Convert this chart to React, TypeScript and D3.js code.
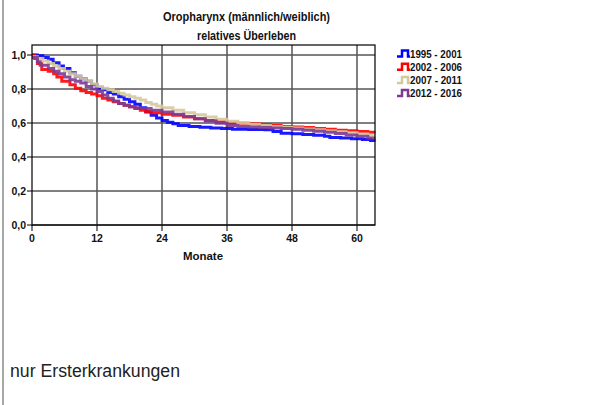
import * as d3 from 'd3'

const title = 'Oropharynx (männlich/weiblich)'
const subtitle = 'relatives Überleben'
const xLabel = 'Monate'
const footnote = 'nur Ersterkrankungen'

const xTicks = [0, 12, 24, 36, 48, 60]
const yTicks = [0, 0.2, 0.4, 0.6, 0.8, 1.0]

const seriesNames = ['1995 - 2001', '2002 - 2006', '2007 - 2011', '2012 - 2016']
const seriesColors = ['#0000ff', '#ff0000', '#d5c99c', '#7d3a92']

// [month, relative survival]
const s1995: [number, number][] = [
  [0, 1.0], [1, 0.995], [2, 0.985], [3, 0.975], [3.9, 0.955], [5, 0.935], [5.8, 0.92],
  [7, 0.895], [8, 0.875], [9, 0.86], [10, 0.845], [11, 0.825], [12, 0.805], [13, 0.795],
  [14, 0.78], [15, 0.77], [16, 0.755], [17, 0.74], [18, 0.725], [19, 0.71], [20, 0.69],
  [21, 0.665], [22, 0.645], [23, 0.63], [24, 0.615], [25, 0.605], [26, 0.595], [27, 0.585],
  [29, 0.58], [31, 0.575], [33, 0.57], [35, 0.567], [37, 0.563], [40, 0.562], [43, 0.56],
  [44.5, 0.55], [46, 0.54], [48, 0.537], [50, 0.533], [52, 0.528], [54, 0.522], [55, 0.515],
  [57, 0.512], [59, 0.508], [61, 0.503], [62.5, 0.497], [63.4, 0.497],
]
const s2002: [number, number][] = [
  [0, 1.0], [0.5, 0.98], [1, 0.95], [1.8, 0.915], [3, 0.905], [4, 0.89], [4.6, 0.87],
  [5.5, 0.845], [7, 0.825], [8, 0.805], [9, 0.79], [10, 0.78], [11, 0.77], [12, 0.76],
  [13, 0.745], [14, 0.735], [15, 0.725], [16, 0.715], [17, 0.705], [18, 0.695], [19, 0.685],
  [20, 0.675], [21, 0.667], [22, 0.66], [24, 0.652], [26, 0.645], [28, 0.635], [30, 0.625],
  [32, 0.615], [34, 0.607], [36, 0.6], [38, 0.598], [40, 0.595], [42, 0.59], [44, 0.585],
  [46, 0.58], [48, 0.577], [50, 0.573], [52, 0.568], [54, 0.563], [56, 0.558], [58, 0.555],
  [60, 0.55], [62, 0.545], [63.4, 0.545],
]
const s2007: [number, number][] = [
  [0, 0.99], [1, 0.98], [2, 0.965], [3, 0.95], [4, 0.935], [5, 0.92], [6, 0.905], [7, 0.89],
  [8, 0.875], [9, 0.86], [10, 0.845], [11, 0.83], [12, 0.815], [13, 0.805], [14, 0.795],
  [15, 0.785], [16, 0.775], [17, 0.765], [18, 0.755], [19, 0.745], [20, 0.735], [21, 0.72],
  [22, 0.71], [23, 0.7], [24, 0.69], [26, 0.675], [28, 0.66], [30, 0.648], [32, 0.635],
  [34, 0.622], [36, 0.61], [38, 0.6], [40, 0.592], [42, 0.585], [44, 0.58], [46, 0.575],
  [48, 0.57], [50, 0.565], [52, 0.56], [54, 0.555], [56, 0.548], [58, 0.542], [60, 0.535],
  [62, 0.528], [63.4, 0.528],
]
const s2012: [number, number][] = [
  [0, 0.985], [1, 0.96], [1.5, 0.94], [3, 0.92], [4, 0.905], [5, 0.89], [6, 0.87], [7, 0.855],
  [8, 0.845], [9, 0.835], [10, 0.815], [11, 0.8], [12, 0.785], [13, 0.765], [14, 0.745],
  [15, 0.73], [16, 0.715], [17, 0.705], [18, 0.695], [19, 0.69], [20, 0.685], [22, 0.675],
  [24, 0.665], [26, 0.652], [28, 0.638], [30, 0.625], [32, 0.612], [34, 0.598], [36, 0.585],
  [38, 0.58], [40, 0.577], [42, 0.574], [44, 0.57], [46, 0.567], [48, 0.563], [50, 0.558],
  [52, 0.552], [54, 0.545], [56, 0.538], [58, 0.53], [60, 0.522], [62, 0.512], [63.4, 0.512],
]
const seriesData = [s1995, s2002, s2007, s2012]

const W = 600
const H = 405
const plot = { left: 32, right: 375, top: 45, bottom: 225 }
const FONT = '"Liberation Sans", Arial, sans-serif'

export default function App() {
  const x = d3.scaleLinear().domain([0, 12]).range([plot.left, plot.left + 65])
  const y = d3.scaleLinear().domain([0, 1]).range([plot.bottom, plot.bottom - 170])
  const line = d3
    .line<[number, number]>()
    .x((d) => x(d[0]))
    .y((d) => y(d[1]))
    .curve(d3.curveStepAfter)

  return (
    <svg
      width={W}
      height={H}
      style={{ position: 'fixed', left: 0, top: 0, background: '#fff' }}
      fontFamily={FONT}
    >
      <rect width={W} height={H} fill="#fff" />
      <line x1={3} x2={3} y1={0} y2={H} stroke="#8a8a8a" strokeWidth={1.5} />

      <text x={163} y={21} fontSize={12.5} fontWeight="bold" fill="#111" textLength={167} lengthAdjust="spacingAndGlyphs">
        {title}
      </text>
      <text x={197} y={40} fontSize={12.5} fontWeight="bold" fill="#111" textLength={99} lengthAdjust="spacingAndGlyphs">
        {subtitle}
      </text>

      {/* horizontal grid */}
      {yTicks.map((t) => (
        <g key={`y${t}`}>
          <line x1={plot.left} x2={plot.right} y1={y(t)} y2={y(t)} stroke="#000" strokeWidth={1} />
          <line x1={plot.left - 5} x2={plot.left} y1={y(t)} y2={y(t)} stroke="#000" strokeWidth={1} />
          <text x={plot.left - 6} y={y(t) + 3.5} textAnchor="end" fontSize={10.5} fontWeight="bold" fill="#111">
            {d3.format('.1f')(t).replace('.', ',')}
          </text>
        </g>
      ))}

      {/* vertical grid */}
      {xTicks.map((t) => (
        <g key={`x${t}`}>
          {t > 0 && (
            <line x1={x(t)} x2={x(t)} y1={plot.top} y2={plot.bottom} stroke="#555" strokeWidth={1.5} />
          )}
          <line x1={x(t)} x2={x(t)} y1={plot.bottom} y2={plot.bottom + 6} stroke="#000" strokeWidth={1} />
          <text x={x(t)} y={plot.bottom + 17} textAnchor="middle" fontSize={10.5} fontWeight="bold" fill="#111">
            {t}
          </text>
        </g>
      ))}

      <text x={183} y={260} fontSize={11.5} fontWeight="bold" fill="#111" textLength={40} lengthAdjust="spacingAndGlyphs">
        {xLabel}
      </text>

      {/* curves */}
      {seriesData.map((s, i) => (
        <path
          key={seriesNames[i]}
          d={line(s) || ''}
          fill="none"
          stroke={seriesColors[i]}
          strokeWidth={3}
          strokeOpacity={0.9}
        />
      ))}

      <rect
        x={plot.left}
        y={plot.top}
        width={plot.right - plot.left}
        height={plot.bottom - plot.top}
        fill="none"
        stroke="#000"
        strokeWidth={1.2}
      />

      {/* legend */}
      {seriesNames.map((n, i) => {
        const ly = 53.5 + i * 13.2
        return (
          <g key={n}>
            <path
              d={`M397,${ly + 3} H402 V${ly - 3} H408 V${ly + 3} H410`}
              fill="none"
              stroke={seriesColors[i]}
              strokeWidth={2.5}
            />
            <text x={410} y={ly + 4} fontSize={10.5} fontWeight="bold" fill="#111" textLength={52} lengthAdjust="spacingAndGlyphs">
              {n}
            </text>
          </g>
        )
      })}

      <text x={10} y={377} fontSize={17.5} fill="#222" textLength={170} lengthAdjust="spacingAndGlyphs">
        {footnote}
      </text>
    </svg>
  )
}
